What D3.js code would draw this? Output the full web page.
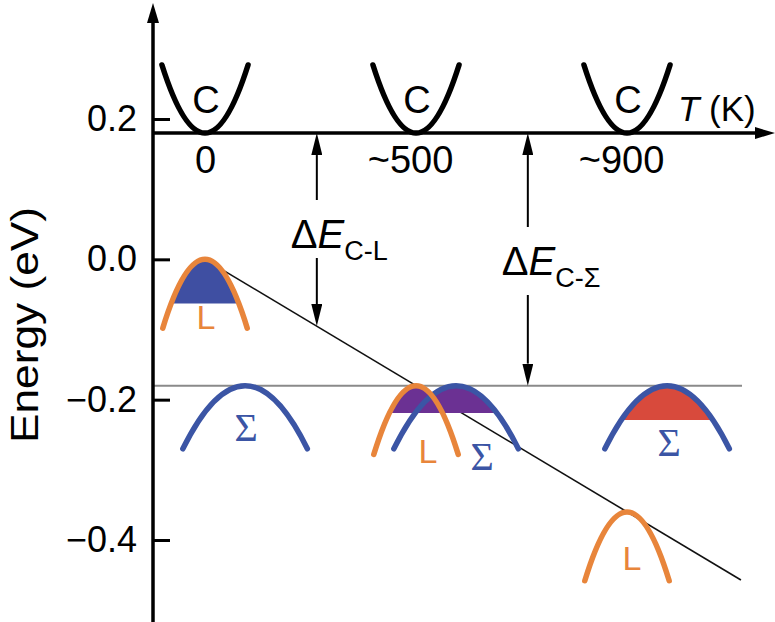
<!DOCTYPE html>
<html lang="en">
<head>
<meta charset="UTF-8">
<title>Band energies vs temperature</title>
<script src="https://d3js.org/d3.v7.min.js"></script>
<style>
  body { margin: 0; background: #fff; }
  text { font-family: "Liberation Sans", Arial, sans-serif; }
</style>
</head>
<body>
<svg width="775" height="622"></svg>
<script>
// ---- data ----
const stages = ["0", "~500", "~900"];            // temperature stages (K)
const cBandMin = [0.18, 0.18, 0.18];             // conduction band minimum (eV)
const lBandTop = [0.0, -0.18, -0.36];            // L valence band top (eV)
const sigmaBandTop = [-0.18, -0.18, -0.18];      // Σ valence band top (eV)
const fillLevel = [-0.063, -0.219, -0.229];      // hole filling level (eV)
const filledBands = [["L"], ["L", "Σ"], ["Σ"]];
const energyTicks = [0.2, 0.0, -0.2, -0.4];
const lTrend = [[0, 0.0], [2.54, -0.457]];       // L band top drift with T
const sigmaLevel = -0.18;
const gaps = [
  {name: "C-L", at: 0.53, from: 0.18, to: -0.095},
  {name: "C-Σ", at: 1.53, from: 0.18, to: -0.18}
];

// ---- look / layout ----
const fillColors = ["#3f4fa2", "#6b3193", "#d84a3c"];
const orange = "#e8853b", blue = "#3b55a5";
const shape = {C: {half: 0.204, depth: 0.097}, L: {half: 0.2, depth: 0.098}, "Σ": {half: 0.295, depth: 0.09}};
const sigmaShift = 0.19;
const lLabelOff = [[1, 70], [12, 77], [5, 58]];
const sLabelOff = [[1, 55], [26, 84], [2, 70]];
const gapCut = [[200, 258], [227, 295]];        // pixel gap around the ΔE labels

const svg = d3.select("svg");
const W = 775, H = 622;
const x = d3.scaleLinear().domain([0, 2]).range([205, 627]);
const y = d3.scaleLinear().domain([0.2, -0.4]).range([119, 540]);
const axisX = 153, tAxisY = y(cBandMin[0]);

const defs = svg.append("defs");
function head(id, len, wid) {
  defs.append("marker").attr("id", id)
    .attr("markerUnits", "userSpaceOnUse")
    .attr("viewBox", `0 0 ${len} ${wid}`)
    .attr("refX", 0).attr("refY", wid / 2)
    .attr("markerWidth", len).attr("markerHeight", wid)
    .attr("orient", "auto")
    .append("path").attr("d", `M0,0L${len},${wid / 2}L0,${wid}Z`).attr("fill", "#000");
}
head("axisHead", 20, 12);
head("gapHead", 22, 11);

function arch(cx, top, s, dir) {
  const end = top + dir * s.depth;
  const p = d3.path();
  p.moveTo(x(cx - s.half), y(end));
  p.quadraticCurveTo(x(cx), y(2 * top - end), x(cx + s.half), y(end));
  return p;
}

// reference level of Σ tops
svg.append("line")
  .attr("x1", axisX).attr("x2", 742)
  .attr("y1", y(sigmaLevel)).attr("y2", y(sigmaLevel))
  .attr("stroke", "#8a8a8a").attr("stroke-width", 2);

// L-band drift line
svg.append("path")
  .attr("d", d3.line().x(d => x(d[0])).y(d => y(d[1]))(lTrend))
  .attr("stroke", "#111").attr("stroke-width", 1.6).attr("fill", "none");

// gap arrows
gaps.forEach((g, i) => {
  const gx = x(g.at);
  svg.append("line")
    .attr("x1", gx).attr("x2", gx)
    .attr("y1", gapCut[i][0]).attr("y2", y(g.from) + 22)
    .attr("stroke", "#000").attr("stroke-width", 2)
    .attr("marker-end", "url(#gapHead)");
  svg.append("line")
    .attr("x1", gx).attr("x2", gx)
    .attr("y1", gapCut[i][1]).attr("y2", y(g.to) - 22)
    .attr("stroke", "#000").attr("stroke-width", 2)
    .attr("marker-end", "url(#gapHead)");
  const t = svg.append("text")
    .attr("x", gx - 26).attr("y", gapCut[i][0] + 48)
    .attr("font-size", 40);
  t.append("tspan").text("Δ");
  t.append("tspan").attr("font-style", "italic").text("E");
  t.append("tspan").attr("font-size", 27).attr("dy", 12).text(g.name);
});

// filled hole pockets
stages.forEach((s, i) => {
  defs.append("clipPath").attr("id", "fill" + i)
    .append("rect").attr("x", 0).attr("y", 0).attr("width", W).attr("height", y(fillLevel[i]));
  filledBands[i].forEach(b => {
    const cx = b === "L" ? i : i + sigmaShift;
    const top = b === "L" ? lBandTop[i] : sigmaBandTop[i];
    const p = arch(cx, top, shape[b], -1);
    p.closePath();
    svg.append("path").attr("d", p.toString())
      .attr("fill", fillColors[i]).attr("clip-path", `url(#fill${i})`);
  });
});

// band curves
stages.forEach((s, i) => {
  svg.append("path").attr("d", arch(i + sigmaShift, sigmaBandTop[i], shape["Σ"], -1).toString())
    .attr("fill", "none").attr("stroke", blue).attr("stroke-width", 5.5).attr("stroke-linecap", "round");
  svg.append("path").attr("d", arch(i, lBandTop[i], shape.L, -1).toString())
    .attr("fill", "none").attr("stroke", orange).attr("stroke-width", 5.5).attr("stroke-linecap", "round");
  svg.append("path").attr("d", arch(i, cBandMin[i], shape.C, 1).toString())
    .attr("fill", "none").attr("stroke", "#000").attr("stroke-width", 5.5).attr("stroke-linecap", "round");

  svg.append("text").attr("x", x(i) + 1).attr("y", y(cBandMin[i]) - 20)
    .attr("text-anchor", "middle").attr("font-size", 38).text("C");
  svg.append("text").attr("x", x(i) + lLabelOff[i][0]).attr("y", y(lBandTop[i]) + lLabelOff[i][1])
    .attr("text-anchor", "middle").attr("font-size", 34).attr("fill", orange).text("L");
  svg.append("text").attr("x", x(i + sigmaShift) + sLabelOff[i][0]).attr("y", y(sigmaBandTop[i]) + sLabelOff[i][1])
    .attr("text-anchor", "middle").attr("font-size", 40).attr("fill", blue)
    .style("font-family", "'Liberation Serif', serif").text("Σ");
});

// energy axis
const yAxis = svg.append("g").attr("transform", `translate(${axisX},0)`)
  .call(d3.axisLeft(y).tickValues(energyTicks)
    .tickSizeInner(-17).tickSizeOuter(0).tickPadding(16)
    .tickFormat(d => d === 0 ? "0.0" : d3.format(".1f")(d)));
yAxis.select(".domain").remove();
yAxis.selectAll(".tick line").attr("stroke-width", 3);
yAxis.selectAll(".tick text").attr("font-size", 36).attr("font-family", null);
svg.append("line")
  .attr("x1", axisX).attr("x2", axisX).attr("y1", H).attr("y2", 23)
  .attr("stroke", "#000").attr("stroke-width", 3.5).attr("marker-end", "url(#axisHead)");

svg.append("text")
  .attr("transform", "translate(38,325) rotate(-90)")
  .attr("text-anchor", "middle").attr("font-size", 38)
  .attr("textLength", 236).attr("lengthAdjust", "spacingAndGlyphs")
  .text("Energy (eV)");

// temperature axis
const tAxis = svg.append("g").attr("transform", `translate(0,${tAxisY})`)
  .call(d3.axisBottom(x).tickValues([0, 1, 2]).tickSize(0).tickPadding(13)
    .tickFormat(i => stages[i]));
tAxis.select(".domain").remove();
tAxis.selectAll(".tick text").attr("font-size", 38).attr("font-family", null)
  .attr("dx", i => stages[i].startsWith("~") ? -6 : 0);
svg.append("line")
  .attr("x1", axisX).attr("x2", W - 20).attr("y1", tAxisY).attr("y2", tAxisY)
  .attr("stroke", "#000").attr("stroke-width", 3.5).attr("marker-end", "url(#axisHead)");

const tl = svg.append("text").attr("x", 678).attr("y", 121).attr("font-size", 35);
tl.append("tspan").attr("font-style", "italic").text("T");
tl.append("tspan").text(" (K)");
</script>
</body>
</html>
